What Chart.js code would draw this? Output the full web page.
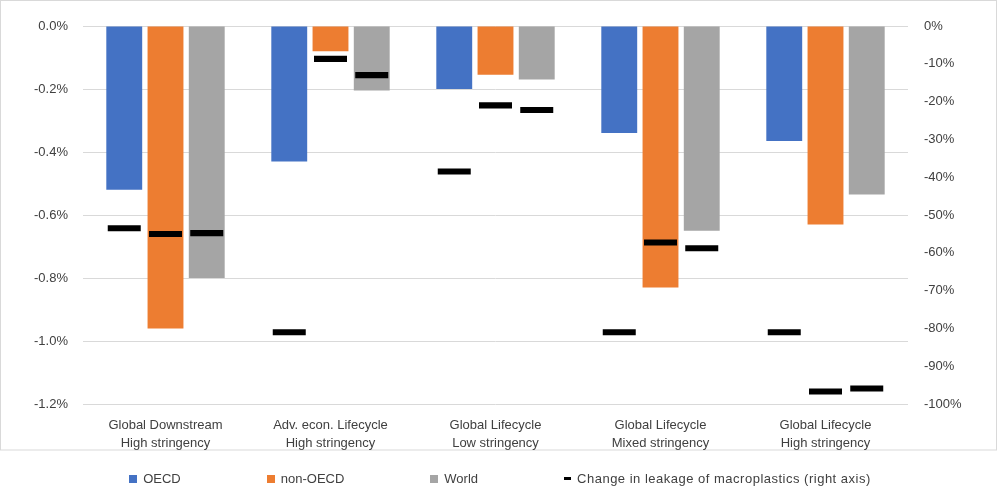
<!DOCTYPE html>
<html>
<head>
<meta charset="utf-8">
<script src="https://cdn.jsdelivr.net/npm/chart.js@4.4.1/dist/chart.umd.min.js"></script>
<style>
    body { margin: 0; background: #fff; }
    #wrap { position: relative; width: 1000px; height: 487px; }
    #leyenda {
        position: absolute; left: 0; top: 471px; width: 1000px;
        display: flex; justify-content: center; gap: 86px;
        font: 13px "Liberation Sans", Arial, sans-serif; color: #404040;
    }
    #leyenda span.item { display: flex; align-items: center; }
    #leyenda span.ancho { letter-spacing: 0.5px; }
    #leyenda i { display: inline-block; width: 8px; height: 8px; margin-right: 6px; }
    #leyenda i.raya { width: 7px; height: 3px; background: #000; }
</style>
</head>
<body>
<div id="wrap">
    <canvas id="grafica"></canvas>
    <div id="leyenda">
        <span class="item"><i style="background:#4472C4"></i>OECD</span>
        <span class="item"><i style="background:#ED7D31"></i>non-OECD</span>
        <span class="item"><i style="background:#A5A5A5"></i>World</span>
        <span class="item ancho"><i class="raya"></i>Change in leakage of macroplastics (right axis)</span>
    </div>
</div>
<script>
const categorias = [
    ['Global Downstream', 'High stringency'],
    ['Adv. econ. Lifecycle', 'High stringency'],
    ['Global Lifecycle', 'Low stringency'],
    ['Global Lifecycle', 'Mixed stringency'],
    ['Global Lifecycle', 'High stringency']
];

// cambio (%), eje izquierdo
const oecd = [-0.52, -0.43, -0.20, -0.34, -0.365];
const nonOecd = [-0.96, -0.08, -0.155, -0.83, -0.63];
const world = [-0.80, -0.205, -0.17, -0.65, -0.535];

// cambio en fugas de macroplásticos (%), eje derecho
const fugaOecd = [-53.5, -81, -38.5, -81, -81];
const fugaNonOecd = [-55, -8.7, -21, -57.3, -96.7];
const fugaWorld = [-54.8, -13, -22.2, -58.8, -95.9];

// grosor de la raya negra en unidades del eje derecho
const medio = 0.8;
const raya = arr => arr.map(v => [v - medio, v + medio]);

const fuente = { family: '"Liberation Sans", Arial, sans-serif', size: 13 };

const marco = {
    id: 'marco',
    beforeDraw(chart) {
        const ctx = chart.ctx;
        ctx.save();
        ctx.strokeStyle = '#D9D9D9';
        ctx.lineWidth = 1;
        ctx.strokeRect(0.5, 0.5, 996, 449.5);
        ctx.restore();
    }
};

// la raya comparte hueco (stack) con su barra
function serieRaya(data, grupo) {
    return {
        data: raya(data),
        backgroundColor: '#000000',
        borderWidth: 0,
        stack: grupo,
        yAxisID: 'y2',
        categoryPercentage: 0.75,
        barPercentage: 0.8,
        order: 0
    };
}

function serieBarra(label, data, color, grupo) {
    return {
        label: label,
        data: data,
        backgroundColor: color,
        borderWidth: 0,
        stack: grupo,
        yAxisID: 'y',
        categoryPercentage: 0.75,
        barPercentage: 0.87,
        order: 1
    };
}

new Chart(document.getElementById('grafica').getContext('2d'), {
    type: 'bar',
    data: {
        labels: categorias,
        datasets: [
            serieRaya(fugaOecd, 'g1'),
            serieRaya(fugaNonOecd, 'g2'),
            serieRaya(fugaWorld, 'g3'),
            serieBarra('OECD', oecd, '#4472C4', 'g1'),
            serieBarra('non-OECD', nonOecd, '#ED7D31', 'g2'),
            serieBarra('World', world, '#A5A5A5', 'g3')
        ]
    },
    options: {
        responsive: true,
        maintainAspectRatio: false,
        animation: false,
        layout: { padding: { top: 26, bottom: 33, left: 0, right: 0 } },
        plugins: {
            legend: { display: false },
            tooltip: { enabled: false }
        },
        scales: {
            x: {
                grid: { display: false },
                border: { display: false },
                ticks: { color: '#404040', font: { ...fuente, lineHeight: 1.35 }, padding: 5, maxRotation: 0 },
                afterFit: s => { s.height = 50; }
            },
            y: {
                position: 'left',
                stacked: false,
                min: -1.2,
                max: 0,
                ticks: {
                    stepSize: 0.2,
                    color: '#404040',
                    font: fuente,
                    padding: 15,
                    callback: v => v.toFixed(1) + '%'
                },
                grid: { color: '#D9D9D9', drawTicks: false },
                border: { display: false },
                afterFit: s => { s.width = 83; }
            },
            y2: {
                position: 'right',
                stacked: false,
                min: -100,
                max: 0,
                ticks: {
                    stepSize: 10,
                    color: '#404040',
                    font: fuente,
                    padding: 16,
                    callback: v => v + '%'
                },
                grid: { display: false, drawTicks: false },
                border: { display: false },
                afterFit: s => { s.width = 92; }
            }
        }
    },
    plugins: [marco]
});
</script>
</body>
</html>
